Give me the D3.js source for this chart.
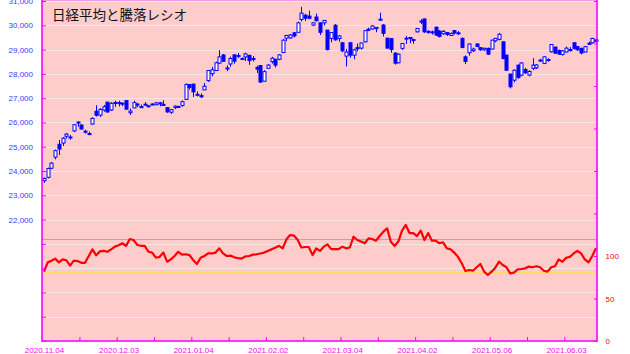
<!DOCTYPE html>
<html>
<head>
<meta charset="utf-8">
<script src="https://cdn.jsdelivr.net/npm/d3@7"></script>
<style>
body{margin:0;background:#fff;}
svg{display:block;}
</style>
</head>
<body>
<svg id="canvas" width="630" height="354"></svg>
<script>
// daily candles, 2020.11.04 - 2021.06
let openP=[23600,23740,24115,24570,25100,25150,25430,25400,25650,25990,25890,25640,25540,25934,26460,26300,26510,26835,26511,26823,
26815,26792,26900,26400,26600,26740,26620,26751,26680,26746,26727,26807,26740,26610,26420,26610,26640,26700,26950,27559,
27575,27151,27102,27340,27720,28004,28140,28442,28777,28238,28406,28780,28710,28630,28696,28760,28612,28267,28340,27697,
28230,28500,28600,28600,28880,29470,29481,29690,29711,30240,30420,30380,30010,30340,30100,30100,29800,29460,30000,29458,
29280,28730,29280,28770,29080,29060,29320,29840,29850,29860,30230,30010,29470,29450,28850,28456,29050,29440,29497,29413,
29730,30150,30260,29750,29730,29920,29760,29650,29700,29580,29780,29690,29460,28700,28870,28950,29230,29080,28990,29050,
29020,29360,29420,29320,28770,27990,27740,28360,27950,28180,27950,28225,28250,28567,28430,28590,28910,29100,28960,28800,
28900,29000,29280,29120,29050,28900,29260,29280,29400];
let highP=[23730,24136,24360,24880,25279,25390,25560,25483,25930,26057,25936,25700,25623,26210,26706,26590,26716,26850,26832,26895,
26896,26814,26920,26570,26895,26799,26736,26833,26721,26790,26843,26832,26905,26625,26553,26701,26687,26903,27602,27572,
27602,27279,27196,27624,28139,28287,28503,28979,28820,28349,28711,28810,28860,28674,28870,28790,28732,28333,28360,28150,
28400,28700,28610,28810,29423,29610,29640,29720,30150,30765,30470,30600,30128,30480,30110,30210,29810,29720,30050,29590,
29296,29024,29300,29034,29249,29281,29800,29900,30008,29930,30520,30050,29480,29460,28899,28830,29260,29560,29520,29444,
29880,30250,30280,29800,29780,29950,29800,29800,29720,29700,29800,29760,29500,28760,29250,29080,29260,29100,29080,29080,
29400,29480,29685,29330,28780,28000,28180,28380,28480,28250,28150,28650,28400,28620,28720,28640,29220,29120,29000,28980,
29120,29100,29300,29150,29080,29150,29330,29480,29450];
let lowP=[23515,23697,24076,24480,24660,25035,25342,25292,25600,25827,25705,25541,25485,25912,26244,26227,26443,26395,26470,26641,
26655,26673,26521,26302,26590,26634,26595,26699,26614,26714,26718,26664,26689,26392,26344,26551,26610,26646,26921,27353,
27042,27073,27002,27340,27667,27899,28140,28408,28491,28111,28292,28417,28656,28569,28531,28370,28507,28034,27629,27695,
28212,28425,28260,28562,28870,29346,29454,29500,29710,30160,30180,30250,29962,30150,29600,29990,28966,29300,29367,29319,
28889,28308,28663,28600,28928,29000,29300,29760,29817,29714,30180,29538,29050,28869,28379,28436,28980,29234,29262,29241,
29700,30050,29690,29650,29620,29560,29500,29600,29560,29560,29620,29600,29050,28400,28750,28900,29100,28950,28950,28780,
29000,29300,29380,28600,28120,27400,27650,27800,27900,28000,27900,28150,28200,28500,28400,28500,28880,28830,28790,28750,
28880,28920,29000,28950,28800,28880,29200,29250,29280];
let closeP=[23695,24105,24325,24839,24905,25349,25520,25385,25906,26014,25728,25634,25527,26165,26296,26537,26644,26433,26787,26800,
26809,26751,26547,26467,26817,26756,26652,26732,26687,26757,26806,26763,26714,26436,26524,26668,26656,26854,27568,27444,
27258,27158,27055,27490,28139,28164,28456,28698,28519,28242,28633,28523,28756,28631,28822,28546,28635,28197,27663,28091,
28362,28646,28360,28779,29388,29580,29600,29560,30100,30500,30292,30290,30100,30190,29710,30200,29000,29700,29400,29559,
28950,28900,28770,28990,29036,29270,29780,29830,29970,29914,30250,29670,29060,29000,28440,28810,29250,29470,29460,29388,
29870,30175,29730,29735,29708,29600,29540,29751,29620,29660,29683,29685,29090,28508,29230,29020,29126,28991,29053,28812,
29390,29460,29630,28630,28150,27470,28150,27850,28450,28044,28098,28360,28364,28560,28700,28549,29210,28850,28814,28946,
29058,28990,29050,28990,28860,29120,29250,29460,29330];
// 騰落レシオ
let ratio=[81.6,92.5,94.5,96.9,92.5,96,95,88.6,94.5,94,92,92,100,107.8,100.8,105.5,106,105,107.8,111,
112.6,115,111.8,120,118.8,113,112,112,105,104,98,99,104,93.3,96,100,105,101.6,102,101,
95.3,90.6,98,100,103,103,104,109,103,100,100.5,98.4,97.6,97,99.6,100,101.6,102,103,104,
106,107.8,109.8,112,109,119.6,124.7,124,119,110,110.6,110.6,101,109,106,111,113.7,108,108,108,
111,109,110,122.7,118.8,117,115,120.8,120,118,123.5,128.6,132.5,116.8,111.8,117,129.8,136.5,127,127,
123.5,129.8,118.8,127,118,118,115,116,109,108,104,99,91.4,82.3,83.5,82.7,86.7,90.6,81.6,77.6,
81.6,86.3,93.3,89.4,86.7,79.6,80.4,84.3,84.7,85.5,87.5,86.7,88,86.7,82.7,81.6,86.7,88,96,93.3,
98,99,103,106,103,96,92.5,100,109];

let dateLabels=["2020.11.04","2020.12.03","2021.01.04","2021.02.02","2021.03.04","2021.04.02","2021.05.06","2021.06.03"];
let dateIdx=[0,20,40,60,80,100,120,140];
let minorIdx=[9.5,19.5,29.5,39.5,49.5,59.5,69.5,79.5,89.5,99.5,109.5,119.5,129.5,139.5];
let priceLabels=[22000,23000,24000,25000,26000,27000,28000,29000,30000,31000];
let priceGrid=d3.range(17000,31001,1000);
let ratioLabels=[0,50,100];
let ratioTicks=d3.range(0,401,50);
let overHeat=120, underHeat=80;

let canvas=d3.select("#canvas");
let pLeft=42, pRight=597, pTop=0, pBottom=341;
let n=closeP.length;

let xScale=d3.scaleLinear().domain([0,n-1]).range([44,596]);
let yPrice=d3.scaleLinear().domain([17000,31000]).range([pBottom,1]);
let yRatio=d3.scaleLinear().domain([0,400]).range([pBottom,1]);

canvas.append("rect").attr("x",pLeft).attr("y",pTop).attr("width",pRight-pLeft).attr("height",pBottom-pTop).attr("fill","#ffcccc");

// grid
canvas.append("g").selectAll("line").data(priceGrid).enter().append("line")
  .attr("x1",pLeft).attr("x2",pRight).attr("y1",d=>Math.round(yPrice(d))+0.5).attr("y2",d=>Math.round(yPrice(d))+0.5)
  .attr("stroke","#fbe4e4").attr("stroke-width",1);

// 120 / 80 lines
canvas.append("line").attr("x1",pLeft).attr("x2",pRight).attr("y1",Math.round(yRatio(overHeat))+0.5).attr("y2",Math.round(yRatio(overHeat))+0.5)
  .attr("stroke","#4fd4d4").attr("stroke-width",1.2);
canvas.append("line").attr("x1",pLeft).attr("x2",pRight).attr("y1",yRatio(underHeat)).attr("y2",yRatio(underHeat))
  .attr("stroke","#ffdd66").attr("stroke-width",2);

// candles
let idx=d3.range(n);
let cg=canvas.append("g");
cg.selectAll("line").data(idx).enter().append("line")
  .attr("x1",i=>Math.round(xScale(i))+0.5).attr("x2",i=>Math.round(xScale(i))+0.5)
  .attr("y1",i=>yPrice(highP[i])).attr("y2",i=>yPrice(lowP[i]))
  .attr("stroke","#0000ff").attr("stroke-width",1);
cg.selectAll("rect").data(idx).enter().append("rect")
  .attr("x",i=>Math.round(xScale(i))-1)
  .attr("y",i=>yPrice(Math.max(openP[i],closeP[i])))
  .attr("width",3)
  .attr("height",i=>Math.max(1,Math.abs(yPrice(openP[i])-yPrice(closeP[i]))))
  .attr("fill",i=>closeP[i]>=openP[i]?"#ffffff":"#0000ff")
  .attr("stroke","#0000ff").attr("stroke-width",1);

// ratio line
let line=d3.line().x((d,i)=>xScale(i)).y(d=>yRatio(d));
canvas.append("path").datum(ratio).attr("d",line).attr("fill","none").attr("stroke","#ff0000").attr("stroke-width",2.2).attr("stroke-linejoin","round");

// axes
let leftAxis=canvas.append("g").attr("transform","translate("+pLeft+",0)")
  .call(d3.axisLeft(yPrice).tickValues(priceLabels).tickFormat(d3.format(",")).tickSize(0).tickPadding(9));
leftAxis.selectAll("text").style("font","8px 'Liberation Sans', Arial, sans-serif").attr("fill","#3a3aff");
canvas.append("g").attr("transform","translate("+pLeft+",0)")
  .call(d3.axisRight(yPrice).tickValues(priceGrid).tickFormat("").tickSize(4))
  .selectAll("line").attr("stroke","#ff00ff");

let bottomAxis=canvas.append("g").attr("transform","translate(0,"+pBottom+")")
  .call(d3.axisBottom(xScale).tickValues(dateIdx).tickFormat((d,i)=>dateLabels[i]).tickSize(0).tickPadding(6));
bottomAxis.selectAll("text").style("font","8px 'Liberation Sans', Arial, sans-serif").attr("fill","#ff00ff");
canvas.append("g").attr("transform","translate(0,"+pBottom+")")
  .call(d3.axisTop(xScale).tickValues(minorIdx).tickFormat("").tickSize(4))
  .selectAll("line").attr("stroke","#ff00ff");

let rightAxis=canvas.append("g").attr("transform","translate("+pRight+",0)")
  .call(d3.axisRight(yRatio).tickValues(ratioLabels).tickSize(0).tickPadding(8.5));
rightAxis.selectAll("text").style("font","8px 'Liberation Sans', Arial, sans-serif").attr("fill","#ff0000");
canvas.append("g").attr("transform","translate("+pRight+",0)")
  .call(d3.axisLeft(yRatio).tickValues(ratioTicks).tickFormat("").tickSize(3))
  .selectAll("line").attr("stroke","#ff00ff");
canvas.selectAll(".domain").remove();

// frame
canvas.append("line").attr("x1",pLeft).attr("x2",pRight).attr("y1",0.5).attr("y2",0.5).attr("stroke","#f09ae8").attr("stroke-width",1);
canvas.append("line").attr("x1",pLeft).attr("x2",pLeft).attr("y1",0).attr("y2",pBottom+1).attr("stroke","#ff00ff").attr("stroke-width",1.6);
canvas.append("line").attr("x1",pRight).attr("x2",pRight).attr("y1",0).attr("y2",pBottom+1).attr("stroke","#ff00ff").attr("stroke-width",1.6);
canvas.append("line").attr("x1",pLeft).attr("x2",pRight).attr("y1",pBottom).attr("y2",pBottom).attr("stroke","#ff00ff").attr("stroke-width",1.6);

canvas.append("text").text("日経平均と騰落レシオ").attr("x",52).attr("y",20)
  .style("font","13.5px 'Noto Sans CJK JP', sans-serif").attr("fill","#111");
</script>
</body>
</html>
